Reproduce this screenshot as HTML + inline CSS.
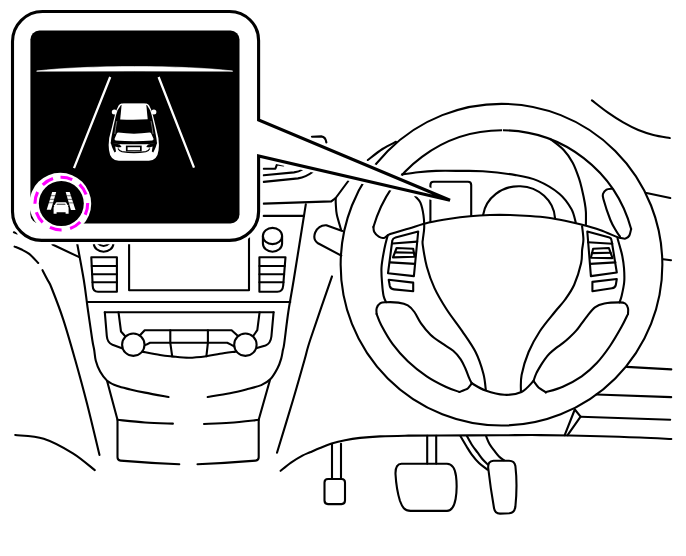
<!DOCTYPE html>
<html><head><meta charset="utf-8"><title>Lane display</title>
<style>html,body{margin:0;padding:0;background:#fff;font-family:"Liberation Sans",sans-serif}svg{display:block}</style></head>
<body>
<svg width="686" height="556" viewBox="0 0 686 556">
<rect width="686" height="556" fill="#fff"/>
<g fill="none" stroke="#000" stroke-width="2.1" stroke-linecap="round" stroke-linejoin="round">
<circle cx="501.5" cy="264.7" r="160.85"/>
<path d="M13.90,232.30 L17.20,233.50"/>
<path d="M14.60,246.60 C15.67,247.05 18.57,248.08 21.00,249.30 C23.43,250.52 26.33,251.62 29.20,253.90 C32.07,256.18 36.70,261.48 38.20,263.00"/>
<path d="M42.50,270.20 C43.35,271.83 46.08,277.03 47.60,280.00 C49.12,282.97 49.00,281.45 51.60,288.00 C54.20,294.55 59.28,307.38 63.20,319.30 C67.12,331.22 71.13,345.47 75.10,359.50 C79.07,373.53 82.93,387.58 87.00,403.50 C91.07,419.42 97.42,446.42 99.50,455.00"/>
<path d="M52.50,244.50 L78.70,256.90"/>
<path d="M76.50,240.00 C77.72,246.67 81.97,268.83 83.80,280.00 C85.63,291.17 86.08,297.00 87.50,307.00 C88.92,317.00 91.18,332.83 92.30,340.00 C93.42,347.17 93.62,346.53 94.20,350.00 C94.78,353.47 94.82,357.20 95.80,360.80 C96.78,364.40 98.22,368.28 100.10,371.60 C101.98,374.92 104.22,378.28 107.10,380.70 C109.98,383.12 113.53,384.65 117.40,386.10 C121.27,387.55 125.70,388.32 130.30,389.40 C134.90,390.48 138.63,391.33 145.00,392.60 C151.37,393.87 164.58,396.27 168.50,397.00"/>
<path d="M107.1,381 L117.5,419.8 L117.5,457.3 Q117.5,460.3 120.5,460.6 Q150,463 179.3,464.3"/>
<path d="M117.50,419.80 C122.08,420.25 135.77,421.87 145.00,422.50 C154.23,423.13 168.25,423.42 172.90,423.60"/>
<path d="M15.20,435.00 C19.95,435.62 34.08,435.65 43.70,438.70 C53.32,441.75 64.38,448.05 72.90,453.30 C81.42,458.55 91.15,467.38 94.80,470.20"/>
<path d="M305.80,204.40 C303.78,217.00 296.62,262.07 293.70,280.00 C290.78,297.93 289.88,301.38 288.30,312.00 C286.72,322.62 285.10,337.37 284.20,343.70 C283.30,350.03 283.40,347.52 282.90,350.00 C282.40,352.48 282.10,355.55 281.20,358.60 C280.30,361.65 279.28,364.88 277.50,368.30 C275.72,371.72 273.20,376.30 270.50,379.10 C267.80,381.90 265.35,383.38 261.30,385.10 C257.25,386.82 251.42,388.05 246.20,389.40 C240.98,390.75 236.42,391.93 230.00,393.20 C223.58,394.47 211.42,396.37 207.70,397.00"/>
<path d="M269.9,380.2 L258.7,419.8 L258.7,457.3 Q258.7,460.3 255.7,460.6 Q226,463 197.5,464.3"/>
<path d="M258.70,419.80 C253.92,420.30 239.12,422.10 230.00,422.80 C220.88,423.50 208.33,423.80 204.00,424.00"/>
<path d="M332.00,276.40 C328.42,286.83 315.08,325.07 310.50,339.00 C305.92,352.93 307.42,349.83 304.50,360.00 C301.58,370.17 297.58,384.55 293.00,400.00 C288.42,415.45 279.67,443.92 277.00,452.70"/>
<path d="M280.60,470.80 C282.33,469.43 287.37,465.13 291.00,462.60 C294.63,460.07 299.23,457.32 302.40,455.60 C305.57,453.88 307.07,453.57 310.00,452.30 C312.93,451.03 316.40,449.45 320.00,448.00 C323.60,446.55 327.43,444.90 331.60,443.60 C335.77,442.30 340.27,441.15 345.00,440.20 C349.73,439.25 354.17,438.53 360.00,437.90 C365.83,437.27 372.50,436.77 380.00,436.40 C387.50,436.03 395.00,435.85 405.00,435.70 C415.00,435.55 424.17,435.57 440.00,435.50 C455.83,435.43 483.33,435.37 500.00,435.30 C516.67,435.23 523.33,434.95 540.00,435.10 C556.67,435.25 583.33,435.80 600.00,436.20 C616.67,436.60 628.12,437.03 640.00,437.50 C651.88,437.97 666.08,438.75 671.30,439.00"/>
<path d="M91.3,257.2 L116.9,257.2 L116.9,291.8 L98,291.8 Q93,291.8 92.7,286 Z"/>
<path d="M91.73,266.00 L116.9,266.00"/>
<path d="M92.13,274.30 L116.9,274.30"/>
<path d="M92.52,282.20 L116.9,282.20"/>
<path d="M93.8,236 L93.8,243.5 A9.8,8.2 0 0 0 113.4,243.5 L113.4,236"/>
<path d="M97.6,243 Q103.6,249 109.6,243"/>
<path d="M262.9,236 A9.6,8.1 0 1 1 282.1,236 A9.6,8.1 0 1 1 262.9,236"/>
<path d="M262.9,236 L262.9,243.5 A9.6,8.2 0 0 0 282.1,243.5 L282.1,236"/>
<path d="M259.4,257.2 L285.5,257.2 L283.2,285.5 Q282.7,291.8 277.3,291.8 L259.4,291.8 Z"/>
<path d="M259.4,266.00 L284.78,266.00"/>
<path d="M259.4,274.30 L284.11,274.30"/>
<path d="M259.4,282.20 L283.47,282.20"/>
<path d="M129.1,236 L129.1,290.2 L249,290.2 L249,236"/>
<path d="M87,302 L290.3,302"/>
<path d="M104.8,312.2 L273.6,312.2"/>
<path d="M104.8,312.2 L106.8,336 Q107.3,342.6 112.5,344.8 L122.6,348.4"/>
<path d="M273.6,312.2 L271.4,336.5 Q270.6,343.5 265.5,345.4 L256,348.3"/>
<path d="M118.5,312.2 L121,331.5 L125,336"/>
<path d="M259.6,312.2 L257.3,330.2 L253.2,336"/>
<path d="M139.5,335.8 L144.7,330.2 L231.6,330.2 L238,336"/>
<path d="M143.5,345.4 L146.5,344.6 L150,342.8 L227.2,342.8 L231,344.6 L234.5,346.6"/>
<path d="M142.00,351.60 C145.00,352.17 155.00,354.20 160.00,355.00 C165.00,355.80 167.17,355.95 172.00,356.40 C176.83,356.85 183.25,357.73 189.00,357.70 C194.75,357.67 201.33,356.85 206.50,356.20 C211.67,355.55 215.17,354.57 220.00,353.80 C224.83,353.03 232.92,351.97 235.50,351.60"/>
<path d="M170.3,330.2 L170.3,342.8 L172.2,356.3"/>
<path d="M207.9,330.2 L207.9,342.8 L206.4,356.1"/>
<path d="M263.7,203.6 L331.3,201.4 L335.7,198 L350.5,178"/>
<path d="M263.7,215.9 L304,215.9"/>
<path d="M335.70,198.00 C335.72,199.00 335.62,201.25 335.80,204.00 C335.98,206.75 335.93,210.27 336.80,214.50 C337.67,218.73 340.30,226.92 341.00,229.40"/>
<path d="M342.3,231 L327,225.4 Q319,224.5 315.2,232.5 Q312.5,239.5 318,243.3 L341.3,255.6"/>
<path d="M263.7,168.7 L275.4,168.7 L277,164.4 L283.4,165.4"/>
<path d="M263.7,175.3 L294,172.4 Q299,171.8 302.4,169.5"/>
<path d="M263.7,181.9 L298,178.4 Q306,177 312.6,172"/>
<path d="M311.9,136.7 L321.3,136.4 Q325.6,137 326.4,142.5"/>
<path d="M591.90,100.40 C594.58,102.45 602.78,109.03 608.00,112.70 C613.22,116.37 618.15,119.52 623.20,122.40 C628.25,125.28 633.27,127.92 638.30,130.00 C643.33,132.08 648.15,133.57 653.40,134.90 C658.65,136.23 667.07,137.48 669.80,138.00"/>
<path d="M646.5,193 L670.3,198"/>
<path d="M663.2,259.2 L671,260.2"/>
<path d="M626.6,366.9 L671.3,369.4"/>
<path d="M596.4,394.5 L671.2,397.1"/>
<path d="M580.6,416.7 L670.2,419.8"/>
<path d="M574.8,409.5 L564.7,435.2"/>
<path d="M574.8,409.5 L580.6,416.7 L567.6,435.2"/>
<path d="M396.00,141.80 C393.75,143.00 387.20,145.97 382.50,149.00 C377.80,152.03 370.25,158.17 367.80,160.00"/>
<path d="M402.20,174.40 C404.83,174.03 412.37,172.78 418.00,172.20 C423.63,171.62 429.00,171.12 436.00,170.90 C443.00,170.68 452.20,170.83 460.00,170.90 C467.80,170.97 473.53,170.60 482.80,171.30 C492.07,172.00 506.48,173.55 515.60,175.10 C524.72,176.65 530.22,177.50 537.50,180.60 C544.78,183.70 553.65,188.97 559.30,193.70 C564.95,198.43 568.67,204.22 571.40,209.00 C574.13,213.78 574.98,220.17 575.70,222.40"/>
<path d="M430.4,221.8 L430.4,185 Q430.4,181.8 433.6,181.8 L468,181.8 Q471.2,181.8 471.2,185 L471.2,215.8"/>
<path d="M483.1,215 A36.2,33.9 0 0 1 555,217.8"/>
<path d="M373.42,227.00 A133.8,133.8 0 0 1 631.14,229.00"/>
<path d="M373.42,227.00 C373.56,227.83 373.40,230.38 374.30,232.00 C375.20,233.62 377.20,235.72 378.80,236.70 C380.40,237.68 382.00,238.33 383.90,237.90 C385.80,237.47 386.02,235.67 390.20,234.10 C394.38,232.53 402.57,230.42 409.00,228.50 C415.43,226.58 421.97,224.23 428.80,222.60 C435.63,220.97 443.13,219.77 450.00,218.70 C456.87,217.63 463.33,216.82 470.00,216.20 C476.67,215.58 483.33,215.20 490.00,215.00 C496.67,214.80 503.33,214.83 510.00,215.00 C516.67,215.17 523.60,215.53 530.00,216.00 C536.40,216.47 542.57,217.00 548.40,217.80 C554.23,218.60 559.53,219.68 565.00,220.80 C570.47,221.92 575.37,222.97 581.20,224.50 C587.03,226.03 593.93,227.87 600.00,230.00 C606.07,232.13 614.10,235.97 617.60,237.30 C621.10,238.63 619.68,237.78 621.00,238.00 C622.32,238.22 624.12,239.00 625.50,238.60 C626.88,238.20 628.36,237.20 629.30,235.60 C630.24,234.00 630.83,230.10 631.14,229.00"/>
<path d="M612.20,188.60 C611.25,188.77 608.00,188.78 606.50,189.60 C605.00,190.42 603.72,191.93 603.20,193.50 C602.68,195.07 602.20,194.58 603.40,199.00 C604.60,203.42 608.27,214.67 610.40,220.00 C612.53,225.33 614.60,228.25 616.20,231.00 C617.80,233.75 619.37,235.58 620.00,236.50"/>
<path d="M415.40,196.40 C416.23,197.45 419.05,199.55 420.40,202.70 C421.75,205.85 422.87,211.12 423.50,215.30 C424.13,219.48 424.30,223.82 424.20,227.80 C424.10,231.78 423.13,236.28 422.90,239.20 C422.67,242.12 422.15,240.72 422.80,245.30 C423.45,249.88 424.85,259.57 426.80,266.70 C428.75,273.83 431.18,280.97 434.50,288.10 C437.82,295.23 442.12,302.37 446.70,309.50 C451.28,316.63 457.17,323.77 462.00,330.90 C466.83,338.03 472.13,345.17 475.70,352.30 C479.27,359.43 481.72,367.45 483.40,373.70 C485.08,379.95 485.40,387.12 485.80,389.80"/>
<path d="M550.00,138.80 C552.28,140.67 559.92,146.02 563.70,150.00 C567.48,153.98 570.15,157.97 572.70,162.70 C575.25,167.43 577.43,173.85 579.00,178.40 C580.57,182.95 581.13,185.90 582.10,190.00 C583.07,194.10 584.17,199.33 584.80,203.00 C585.43,206.67 585.72,208.37 585.90,212.00 C586.08,215.63 585.90,222.67 585.90,224.80"/>
<path d="M582.10,226.20 C582.32,228.42 583.40,235.53 583.40,239.50 C583.40,243.47 582.48,246.05 582.10,250.00 C581.72,253.95 582.42,257.42 581.10,263.20 C579.78,268.98 576.92,278.57 574.20,284.70 C571.48,290.83 568.03,295.45 564.80,300.00 C561.57,304.55 558.93,306.83 554.80,312.00 C550.67,317.17 544.37,324.33 540.00,331.00 C535.63,337.67 531.67,344.67 528.60,352.00 C525.53,359.33 522.88,368.45 521.60,375.00 C520.32,381.55 521.02,388.58 520.90,391.30"/>
<path d="M387.70,235.40 C387.15,237.63 385.43,243.45 384.40,248.80 C383.37,254.15 381.87,261.52 381.50,267.50 C381.13,273.48 381.85,279.95 382.20,284.70 C382.55,289.45 382.95,293.08 383.60,296.00 C384.25,298.92 385.68,301.17 386.10,302.20"/>
<path d="M617.60,238.70 C618.00,240.08 619.22,244.12 620.00,247.00 C620.78,249.88 621.63,252.50 622.30,256.00 C622.97,259.50 623.68,263.67 624.00,268.00 C624.32,272.33 624.60,277.33 624.20,282.00 C623.80,286.67 622.38,292.60 621.60,296.00 C620.82,299.40 619.85,301.33 619.50,302.40"/>
<path d="M376.60,313.90 C376.62,312.95 376.07,309.98 376.70,308.20 C377.33,306.42 378.83,304.20 380.40,303.20 C381.97,302.20 383.10,302.30 386.10,302.20 C389.10,302.10 394.78,302.07 398.40,302.60 C402.02,303.13 405.13,303.83 407.80,305.40 C410.47,306.97 412.20,309.00 414.40,312.00 C416.60,315.00 418.32,319.62 421.00,323.40 C423.68,327.18 427.03,331.40 430.50,334.70 C433.97,338.00 438.02,340.52 441.80,343.20 C445.58,345.88 450.05,348.12 453.20,350.80 C456.35,353.48 458.65,356.32 460.70,359.30 C462.75,362.28 464.08,365.55 465.50,368.70 C466.92,371.85 468.15,375.77 469.20,378.20 C470.25,380.63 471.37,382.45 471.80,383.30"/>
<path d="M471.80,383.30 C471.44,383.74 468.52,387.88 467.50,388.60 C466.48,389.33 460.17,391.72 459.50,392.00"/>
<path d="M459.50,392.00 C457.18,391.12 451.07,389.32 445.60,386.70 C440.13,384.08 433.00,380.55 426.70,376.30 C420.40,372.05 413.47,366.57 407.80,361.20 C402.13,355.83 397.12,350.10 392.70,344.10 C388.28,338.10 383.98,330.23 381.30,325.20 C378.62,320.17 377.38,315.78 376.60,313.90"/>
<path d="M628.00,313.90 C628.00,312.95 628.47,309.93 628.00,308.20 C627.53,306.47 626.62,304.47 625.20,303.50 C623.78,302.53 622.97,302.40 619.50,302.40 C616.03,302.40 608.50,302.68 604.40,303.50 C600.30,304.32 597.73,305.25 594.90,307.30 C592.07,309.35 589.60,313.12 587.40,315.80 C585.20,318.48 583.60,320.88 581.70,323.40 C579.80,325.92 578.05,328.55 576.00,330.90 C573.95,333.25 571.60,335.45 569.40,337.50 C567.20,339.55 565.00,341.47 562.80,343.20 C560.60,344.93 558.40,346.17 556.20,347.90 C554.00,349.63 551.50,351.70 549.60,353.60 C547.70,355.50 546.22,357.42 544.80,359.30 C543.38,361.18 542.52,362.55 541.10,364.90 C539.68,367.25 537.57,370.72 536.30,373.40 C535.03,376.08 533.97,379.73 533.50,381.00"/>
<path d="M533.50,381.00 C533.92,381.54 537.48,386.56 538.50,387.50 C539.52,388.44 545.19,391.90 545.80,392.30"/>
<path d="M545.80,392.30 C548.63,391.37 556.82,389.37 562.80,386.70 C568.78,384.03 576.03,380.25 581.70,376.30 C587.37,372.35 592.08,368.05 596.80,363.00 C601.52,357.95 605.90,351.98 610.00,346.00 C614.10,340.02 618.40,332.45 621.40,327.10 C624.40,321.75 626.90,316.10 628.00,313.90"/>
<path d="M471.80,383.30 C474.08,384.52 480.07,388.68 485.50,390.60 C490.93,392.52 498.40,394.57 504.40,394.80 C510.40,395.03 516.65,394.30 521.50,392.00 C526.35,389.70 531.50,382.83 533.50,381.00"/>
<path d="M395.5,237.5 L418.2,231.5 L413.9,276.1 L388,273.2 L392.3,240.5 Q392.8,238.2 395.5,237.5Z"/>
<path d="M392.6,243.5 L417.2,241.6"/>
<path d="M396.6,248 L413.2,248.8 L414.6,256.7 L393,257.4 Z"/>
<path d="M395.4,252.4 L413.9,252.8"/>
<path d="M390.1,262.4 L415,263.9"/>
<path d="M388.7,279.7 L413.2,282.6 L413.2,291.2 L394,289.4 Q390.5,289 389.8,286 Z"/>
<path d="M587.3,231.5 L609.5,237.6 Q611.3,238.2 611.6,240.5 L616.8,272.5 L590.9,276.1 Z"/>
<path d="M588,242.3 L612.3,243.7"/>
<path d="M593.1,248.8 L608.9,248 L612.5,258.1 L590.9,257.7 Z"/>
<path d="M591.9,253.1 L610.6,252.8"/>
<path d="M590.2,263.9 L615.4,262.4"/>
<path d="M592.4,281.9 L616.8,279 L615.8,285 Q615.3,287.8 612,288.2 L592.4,291.2 Z"/>
<path d="M332,444 L332,479"/>
<path d="M341,443.8 L341,479"/>
<path d="M328,479 L341.5,479 Q345,479 345,482.5 L345,500.6 Q345,504.1 341.5,504.1 L328,504.1 Q324.5,504.1 324.5,500.6 L324.5,482.5 Q324.5,479 328,479Z"/>
<path d="M427.2,435.8 L427.2,463.6"/>
<path d="M436.2,435.8 L436.2,463.6"/>
<path d="M401.5,463.8 L447,463.8 C452.5,464 455.2,470 456,476 C457,484 456.8,492 455.6,499 C454,507.5 451.5,510.8 447,510.9 L410.5,510.9 C404.5,510.8 402.2,507 400,501 C397.5,493 396,483 395.5,474 C395.3,467.5 397,464 401.5,463.8Z"/>
<path d="M493.5,460.7 L509,460.7 Q514.5,460.7 515.4,466 Q517.6,485 515.4,506.5 Q514.6,512.8 509.5,513.2 L500,513.6 Q495,513.6 494,508 Q490.5,488 488.2,468 Q487.7,461 493.5,460.7Z"/>
<path d="M460.50,436.20 C461.47,437.83 464.45,442.98 466.30,446.00 C468.15,449.02 469.48,451.47 471.60,454.30 C473.72,457.13 476.37,460.45 479.00,463.00 C481.63,465.55 486.00,468.50 487.40,469.60"/>
<path d="M467.00,436.20 C467.83,437.67 470.22,442.25 472.00,445.00 C473.78,447.75 475.87,450.23 477.70,452.70 C479.53,455.17 481.25,457.78 483.00,459.80 C484.75,461.82 487.33,463.97 488.20,464.80"/>
<path d="M486.10,436.20 C486.67,437.50 488.13,441.58 489.50,444.00 C490.87,446.42 492.72,448.62 494.30,450.70 C495.88,452.78 497.38,454.92 499.00,456.50 C500.62,458.08 503.17,459.58 504.00,460.20"/>
<circle cx="133.3" cy="344.7" r="11.2" fill="#fff"/>
<circle cx="245.4" cy="344.7" r="11.2" fill="#fff"/>
</g>
<rect x="502" y="128.4" width="0.9" height="3.6" fill="#fff"/>
<path d="M42.5,11.5 L229.6,11.5 A29,29 0 0 1 258.6,40.5 L258.6,119.9 L450,200.2 L258.6,156 L258.6,211.4 A29,29 0 0 1 229.6,240.4 L41.5,240.4 A29,29 0 0 1 12.5,211.4 L12.5,41.5 A30,30 0 0 1 42.5,11.5Z" fill="#fff" stroke="#fff" stroke-width="7.9" stroke-linejoin="miter" stroke-miterlimit="4"/>
<path d="M42.5,11.5 L229.6,11.5 A29,29 0 0 1 258.6,40.5 L258.6,119.9 L450,200.2 L258.6,156 L258.6,211.4 A29,29 0 0 1 229.6,240.4 L41.5,240.4 A29,29 0 0 1 12.5,211.4 L12.5,41.5 A30,30 0 0 1 42.5,11.5Z" fill="#fff" stroke="#000" stroke-width="3.1" stroke-linejoin="miter" stroke-miterlimit="4"/>
<rect x="30.4" y="30.5" width="209.1" height="192.9" rx="9" ry="9" fill="#000"/>
<path d="M36.7,71 C85,65 184,65 232.6,71 L232.6,71.2 Q134,70.9 36.7,71.2Z" fill="#fff" stroke="#fff" stroke-width="0.6"/>
<path d="M110.2,77 L74,168.1 M158.6,77 L194,167.6" stroke="#fff" stroke-width="2.3" stroke-linecap="butt" fill="none"/>
<path fill="#fff" d="M121.5,103.6 L146.4,103.6 Q148.2,104.1 149.2,105.6 L151.2,109.8 L153,115.5 L155.8,126.9 L158.4,138 Q159.3,145 158.6,150 Q157.4,160.7 148.8,160.7 L118.8,160.7 Q110.2,160.7 109,150 Q108.3,145 109.2,138 L112,126.9 L114.8,115.5 L116.6,109.8 L118.6,105.6 Q119.6,104.1 121.5,103.6Z"/>
<ellipse cx="114.4" cy="112.1" rx="2.6" ry="2.5" fill="#fff"/>
<ellipse cx="153.8" cy="112.1" rx="2.6" ry="2.5" fill="#fff"/>
<path fill="#000" d="M120.8,105.3 L147.1,105.3 L150.1,110.2 L151.8,115.5 L154.3,126.9 L156.4,138 L157,143.4 Q134,145.2 110.7,143.4 L111.3,138 L113.4,126.9 L115.9,115.5 L117.6,110.2 Z"/>
<path fill="#fff" d="M123.4,103.8 L144.5,103.8 Q146.2,104.1 146.4,106 L147.7,119.3 Q134,120.1 120.2,119.4 L121.5,106 Q121.7,104.1 123.4,103.8Z"/>
<path fill="none" stroke="#fff" stroke-opacity="0.55" stroke-width="0.8" d="M116.8,121 Q115.4,128 114.8,134 M151,121 Q152.4,128 153,134"/>
<path fill="#fff" d="M118.4,132.5 Q134,134.8 149.6,132.5 Q150.8,132.6 151.2,133.6 L153.7,139.2 L152.4,140.6 Q134,141.8 115.6,140.6 L114.4,139.2 L116.8,133.6 Q117.2,132.6 118.4,132.5Z"/>
<path fill="#000" d="M110.6,142.4 L119.8,144.4 L121.6,147.1 L118.4,147.4 L115.2,146.6 L116,151.6 L114.5,152.4 L112.2,147.6 Z"/>
<path fill="#000" d="M157.2,142.4 L148,144.4 L146.2,147.1 L149.4,147.4 L152.6,146.6 L151.8,151.6 L153.3,152.4 L155.6,147.6 Z"/>
<path fill="none" stroke="#000" stroke-width="1.2" d="M118,148.4 Q119.4,151.2 122,151.7 Q134,153.6 145.8,151.7 Q148.4,151.2 149.8,148.4"/>
<rect x="125.9" y="145.6" width="15.8" height="5.9" fill="#000"/>
<rect x="127.6" y="147.2" width="12.4" height="3" fill="#fff"/>
<circle cx="60.3" cy="203.7" r="30.9" fill="#fff"/>
<circle cx="61.3" cy="203.6" r="22.5" fill="#000"/>
<circle cx="61.3" cy="203.6" r="26.4" fill="none" stroke="#ff00ff" stroke-width="3.1" stroke-dasharray="12.000 8.735" transform="rotate(-91.72 61.3 203.6)"/>
<g transform="translate(0.1,0.6)">
<path fill="#fff" d="M52.10,191.30 L56.10,191.30 L50.90,209.10 L46.60,209.10Z"/>
<path d="M50.62,195.13 L55.28,195.13" stroke="#000" stroke-opacity="0.75" stroke-width="0.8" fill="none"/>
<path d="M49.52,198.69 L54.24,198.69" stroke="#000" stroke-opacity="0.75" stroke-width="0.8" fill="none"/>
<path d="M48.45,202.16 L53.23,202.16" stroke="#000" stroke-opacity="0.75" stroke-width="0.8" fill="none"/>
<path fill="#fff" d="M65.60,191.30 L69.60,191.30 L75.40,209.30 L70.80,209.30Z"/>
<path d="M66.42,195.17 L71.15,195.17" stroke="#000" stroke-opacity="0.75" stroke-width="0.8" fill="none"/>
<path d="M67.46,198.77 L72.31,198.77" stroke="#000" stroke-opacity="0.75" stroke-width="0.8" fill="none"/>
<path d="M68.47,202.28 L73.44,202.28" stroke="#000" stroke-opacity="0.75" stroke-width="0.8" fill="none"/>
<path fill="#fff" d="M56.9,201.6 L65.1,201.6 Q66.2,201.7 66.6,202.8 L67.3,204.3 L68.2,204.2 L68.2,205.2 L67.7,205.4 Q68.5,206.2 68.5,207.4 L68.5,213.2 L65.5,213.2 L65.5,211.7 L56.5,211.7 L56.5,213.2 L53.5,213.2 L53.5,207.4 Q53.5,206.2 54.3,205.4 L53.8,205.2 L53.8,204.2 L54.7,204.3 L55.4,202.8 Q55.8,201.7 56.9,201.6Z"/>
<path fill="#000" d="M57,203.1 L65,203.1 L65.6,204.2 L56.4,204.2Z" opacity="0.8"/>
</g>
</svg>
</body></html>
